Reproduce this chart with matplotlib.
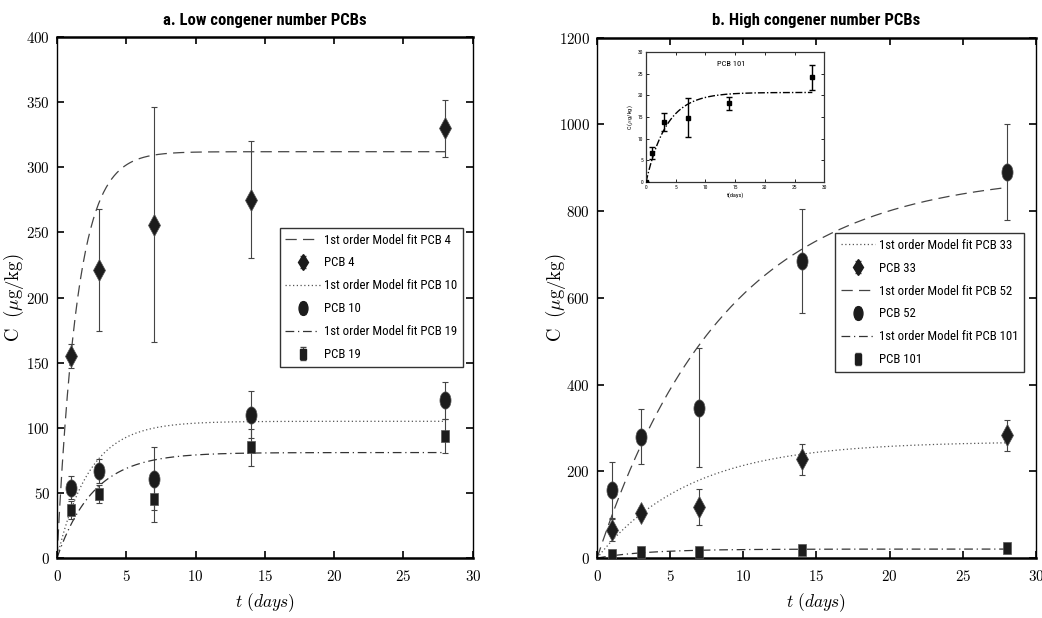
import numpy as np
import matplotlib
matplotlib.use('Agg')
import matplotlib.pyplot as plt
from matplotlib import font_manager as fm
from matplotlib.markers import MarkerStyle
from matplotlib.transforms import Affine2D
from matplotlib.ticker import FuncFormatter, MultipleLocator


def pick_narrow_font():
    # prefer a Helvetica-Narrow look; fall back to condensed DejaVu, then plain
    for fam in ['Liberation Sans Narrow', 'Arial Narrow', 'Roboto Condensed']:
        try:
            fm.findfont(fm.FontProperties(family=fam), fallback_to_default=False)
            return fam, 'normal', True
        except ValueError:
            pass
    p = fm.findfont(fm.FontProperties(family='DejaVu Sans', stretch='condensed'))
    if 'Condensed' in p:
        return 'DejaVu Sans', 'condensed', True
    return 'Liberation Sans', 'normal', False


FAM, STRETCH, NARROW = pick_narrow_font()
plt.rcParams['mathtext.fontset'] = 'cm'
plt.rcParams['font.family'] = [FAM, 'DejaVu Sans']
plt.rcParams['font.stretch'] = STRETCH
SCALE = 1.0 if NARROW else 0.86

# ---- data ----
days = [1, 3, 7, 14, 28]

# panel a: low congener number PCBs
pcb4 = [155, 221, 256, 275, 330]
pcb4_err = [9, 47, 90, 45, 22]
pcb10 = [54, 67, 61, 110, 121]
pcb10_err = [9, 9, 24, 18, 14]
pcb19 = [37, 49, 45, 85, 94]
pcb19_err = [7, 7, 17, 14, 13]

# panel b: high congener number PCBs
pcb33 = [65, 104, 118, 228, 283]
pcb33_err = [25, 12, 42, 36, 35]
pcb52 = [157, 280, 347, 684, 890]
pcb52_err = [65, 63, 138, 120, 111]
pcb101 = [6.8, 13.9, 14.9, 18.2, 24.2]
pcb101_err = [1.4, 2.0, 4.6, 1.5, 2.9]

# inset includes t = 0
inset_days = [0, 1, 3, 7, 14, 28]
inset_pcb101 = [0, 6.8, 13.9, 14.9, 18.2, 24.2]
inset_pcb101_err = [0, 1.4, 2.0, 4.6, 1.5, 2.9]

# first order model parameters C = Ceq * (1 - exp(-k t))
fit_params = {
    'PCB 4': (312, 0.685),
    'PCB 10': (105, 0.43),
    'PCB 19': (81, 0.379),
    'PCB 33': (269, 0.158),
    'PCB 52': (890, 0.115),
    'PCB 101': (20.7, 0.289),
}


def first_order(name, t):
    ceq, k = fit_params[name]
    return ceq * (1 - np.exp(-k * t))


def stretched(m, sy):
    return MarkerStyle(m, transform=Affine2D().scale(1, sy))


DIAMOND = stretched('D', 1.85)
CIRCLE = stretched('o', 1.55)
SQUARE = stretched('s', 1.5)
MK = '#1c1c1c'
ERR = '#444444'
DASH = (9, 5)
DOT = (1, 2)
DASHDOT = (7, 3, 1, 3)

math_fmt = FuncFormatter(lambda v, p: r'$%g$' % v)
tfit = np.linspace(0, 28, 300)


def style_axes(ax, ylab_x):
    ax.tick_params(direction='in', top=True, right=True, length=5, width=1.2,
                   labelsize=10.8)
    ax.tick_params(axis='x', pad=8)
    ax.tick_params(axis='y', pad=5)
    ax.xaxis.set_major_formatter(math_fmt)
    ax.yaxis.set_major_formatter(math_fmt)
    for s in ['top', 'bottom']:
        ax.spines[s].set_linewidth(1.8)
    for s in ['left', 'right']:
        ax.spines[s].set_linewidth(1.0)
    ax.set_xlim(0, 30)
    ax.xaxis.set_major_locator(MultipleLocator(5))
    ax.set_xlabel(r'$t\ (days)$', fontsize=12.5, labelpad=5)
    ax.set_ylabel(r'$\mathrm{C}\ \ (\mu\mathrm{g/kg})$', fontsize=13.5)
    ax.yaxis.set_label_coords(ylab_x, 0.5)


def points(ax, y, e, marker, label, ms):
    ax.errorbar(days, y, yerr=e, fmt='none', ecolor=ERR, elinewidth=0.8,
                capsize=2.5, capthick=0.8, zorder=2)
    ax.plot(days, y, linestyle='none', marker=marker, ms=ms, color=MK,
            mec='#555555', mew=0.5, zorder=3)
    # legend proxy with a small error bar
    return ax.errorbar([np.nan], [np.nan], yerr=[1], fmt='', marker=marker,
                       linestyle='none', ms=ms * 0.8, color=MK, ecolor=ERR,
                       elinewidth=0.8, capsize=2, label=label)


def add_legend(ax, handles, anchor):
    leg = ax.legend(handles=handles, loc='upper right', bbox_to_anchor=anchor,
                    fontsize=9.2 * SCALE, fancybox=False, edgecolor='#333333',
                    framealpha=1, handlelength=2.7, handletextpad=0.3,
                    labelspacing=0.78, borderpad=0.45, borderaxespad=0)
    leg.get_frame().set_linewidth(1.0)


fig = plt.figure(figsize=(10.42, 6.18), dpi=100)
axa = fig.add_axes([0.0547, 0.097, 0.399, 0.843])
axb = fig.add_axes([0.573, 0.097, 0.421, 0.842])

# ---- panel a ----
l1, = axa.plot(tfit, first_order('PCB 4', tfit), color='#444444', lw=0.9,
               dashes=DASH, label='1st order Model fit PCB 4')
h1 = points(axa, pcb4, pcb4_err, DIAMOND, 'PCB 4', 5.8)
l2, = axa.plot(tfit, first_order('PCB 10', tfit), color='#555555', lw=0.9,
               dashes=DOT, label='1st order Model fit PCB 10')
h2 = points(axa, pcb10, pcb10_err, CIRCLE, 'PCB 10', 8)
l3, = axa.plot(tfit, first_order('PCB 19', tfit), color='#333333', lw=0.9,
               dashes=DASHDOT, label='1st order Model fit PCB 19')
h3 = points(axa, pcb19, pcb19_err, SQUARE, 'PCB 19', 6)
style_axes(axa, -0.074)
axa.set_ylim(0, 400)
axa.yaxis.set_major_locator(MultipleLocator(50))
axa.set_title('a. Low congener number PCBs', fontsize=12 * SCALE,
              fontweight='bold', pad=9)
add_legend(axa, [l1, h1, l2, h2, l3, h3], (0.976, 0.634))

# ---- panel b ----
m1, = axb.plot(tfit, first_order('PCB 33', tfit), color='#555555', lw=0.9,
               dashes=DOT, label='1st order Model fit PCB 33')
g1 = points(axb, pcb33, pcb33_err, DIAMOND, 'PCB 33', 5.8)
m2, = axb.plot(tfit, first_order('PCB 52', tfit), color='#444444', lw=0.9,
               dashes=DASH, label='1st order Model fit PCB 52')
g2 = points(axb, pcb52, pcb52_err, CIRCLE, 'PCB 52', 8)
m3, = axb.plot(tfit, first_order('PCB 101', tfit), color='#333333', lw=0.9,
               dashes=DASHDOT, label='1st order Model fit PCB 101')
g3 = points(axb, pcb101, pcb101_err, SQUARE, 'PCB 101', 6)
style_axes(axb, -0.066)
axb.set_ylim(0, 1200)
axb.yaxis.set_major_locator(MultipleLocator(200))
axb.set_title('b. High congener number PCBs', fontsize=12 * SCALE,
              fontweight='bold', pad=9)
add_legend(axb, [m1, g1, m2, g2, m3, g3], (0.974, 0.625))

# ---- inset ----
axi = fig.add_axes([0.620, 0.7055, 0.171, 0.210])
axi.errorbar(inset_days, inset_pcb101, yerr=inset_pcb101_err, fmt='s', ms=3,
             color='black', ecolor='black', elinewidth=1.0, capsize=2,
             capthick=1.0, zorder=3)
axi.plot(tfit, first_order('PCB 101', tfit), color='black', lw=1.0,
         dashes=(5, 1.5, 1, 1.5))
axi.set_xlim(0, 30)
axi.set_ylim(0, 30)
axi.xaxis.set_major_locator(MultipleLocator(5))
axi.yaxis.set_major_locator(MultipleLocator(5))
axi.tick_params(direction='in', top=True, right=True, length=2, width=0.6,
                labelsize=4, pad=2)
for s in axi.spines.values():
    s.set_linewidth(0.9)
    s.set_color('#333333')
axi.set_xlabel('t(days)', fontsize=4.5, labelpad=2)
axi.set_ylabel(r'C ($\mu$g/kg)', fontsize=4.5, labelpad=2)
axi.text(0.48, 0.93, 'PCB 101', transform=axi.transAxes, ha='center',
         va='top', fontsize=6)

fig.savefig('out.png', dpi=100)
